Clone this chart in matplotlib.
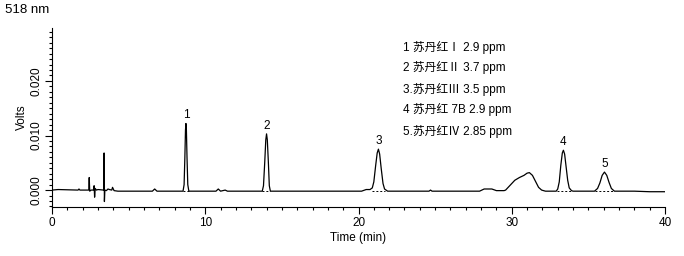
import matplotlib
matplotlib.use('Agg')
import matplotlib.pyplot as plt
from matplotlib.ticker import MultipleLocator

plt.rcParams['font.family'] = ['Liberation Sans', 'Noto Sans CJK SC', 'DejaVu Sans']

# chromatogram trace (min, volts)
time_min = [0, 0.4, 1.7, 1.76, 1.82, 2.40, 2.43, 2.46, 2.55, 2.70, 2.75, 2.78, 2.82, 2.9,
            3.0, 3.38, 3.40, 3.42, 3.45, 3.55, 3.65, 3.75, 3.9, 3.95, 4.05, 4.3,
            6.55, 6.7, 6.85, 8.55, 8.62, 8.67, 8.71, 8.74, 8.77, 8.81, 8.86, 8.93,
            10.7, 10.85, 11.0, 11.3, 11.45, 11.6, 13.72, 13.8, 13.88, 13.95, 14.0, 14.05,
            14.12, 14.18, 14.25,
            20.2, 20.5, 20.75, 20.9, 21.0, 21.12, 21.22, 21.3, 21.38, 21.48, 21.6, 21.7, 21.9,
            24.6, 24.7, 24.8, 27.9, 28.2, 28.7, 29.0, 29.5,
            29.6, 29.9, 30.2, 30.5, 30.8, 31.0, 31.15, 31.35, 31.55, 31.75, 31.95, 32.2, 32.9,
            33.0, 33.1, 33.2, 33.3, 33.37, 33.45, 33.55, 33.65, 33.75, 33.9, 34.0,
            35.4, 35.6, 35.75, 35.9, 36.05, 36.2, 36.35, 36.5, 36.7, 38.0, 39.0, 40.0]
volts = [0.0000, 0.0001, 0.0000, 0.0002, 0.0000, 0.0000, 0.0023, -0.0002, 0.0000, 0.0000,
         0.0008, -0.0013, 0.0003, 0.0000, 0.0001, 0.0000, 0.0068, -0.0021, 0.0000, -0.0001,
         0.0002, 0.0001, 0.0000, 0.0005, -0.0001, -0.0002,
         -0.0002, 0.0002, -0.0002, -0.0002, 0.0010, 0.0060, 0.0110, 0.0122, 0.0110, 0.0060,
         0.0010, -0.0002,
         -0.0002, 0.0002, -0.0002, 0.0000, -0.0002, -0.0002, -0.0002, 0.0008, 0.0050, 0.0092,
         0.0103, 0.0092, 0.0050, 0.0008, -0.0002,
         -0.0002, 0.0001, 0.0001, 0.0004, 0.0015, 0.0045, 0.0068, 0.0075, 0.0066, 0.0040,
         0.0012, 0.0002, -0.0002,
         -0.0002, 0.0000, -0.0002, -0.0002, 0.0002, 0.0002, -0.0001, -0.0001,
         0.0000, 0.0009, 0.0018, 0.0023, 0.0027, 0.0031, 0.0032, 0.0027, 0.0016, 0.0005,
         0.0000, -0.0002, -0.0002,
         0.0002, 0.0015, 0.0045, 0.0068, 0.0073, 0.0066, 0.0042, 0.0018, 0.0004, -0.0001, -0.0002,
         -0.0002, 0.0003, 0.0013, 0.0027, 0.0033, 0.0027, 0.0014, 0.0003, -0.0002,
         -0.0002, -0.0003, -0.0003]

# peak labels and integration baselines
peak_names = ['1', '2', '3', '4', '5']
peak_time = [8.74, 14.0, 21.3, 33.37, 36.05]
peak_height = [0.0122, 0.0103, 0.0075, 0.0073, 0.0033]
base_start = [8.55, 13.72, 20.85, 32.95, 35.4]
base_end = [8.93, 14.25, 21.75, 33.85, 36.7]
base_level = -0.0002

legend_lines = ['1 苏丹红Ⅰ 2.9 ppm', '2 苏丹红Ⅱ 3.7 ppm', '3.苏丹红Ⅲ 3.5 ppm',
                '4 苏丹红 7B 2.9 ppm', '5.苏丹红Ⅳ 2.85 ppm']

fig = plt.figure(figsize=(6.84, 2.56), dpi=100)
ax = fig.add_axes([52 / 684, 49 / 256, 613 / 684, 179 / 256])

ax.plot(time_min, volts, color='black', lw=0.9)
for s, e in zip(base_start, base_end):
    ax.plot([s, e], [base_level, base_level], color='black', lw=0.7, ls=(0, (2, 2)))
for name, t, h in zip(peak_names, peak_time, peak_height):
    ax.text(t, h + 0.0004, name, ha='center', va='bottom', fontsize=8.5)

for i, line in enumerate(legend_lines):
    ax.text(403 / 684, 1 - (47 + i * 21) / 256, line, transform=fig.transFigure,
            ha='left', va='center', fontsize=8.5)

ax.set_xlim(0, 40)
ax.set_ylim(-0.0031, 0.0297)
ax.xaxis.set_major_locator(MultipleLocator(10))
ax.xaxis.set_minor_locator(MultipleLocator(1))
ax.yaxis.set_major_locator(MultipleLocator(0.01))
ax.yaxis.set_minor_locator(MultipleLocator(0.001))
ax.set_yticks([0, 0.01, 0.02])
ax.set_yticklabels(['0.000', '0.010', '0.020'], rotation=90, va='center')
ax.tick_params(which='major', length=5, width=0.8, labelsize=8.5, pad=2)
ax.tick_params(which='minor', length=2.5, width=0.8)

for side in ['top', 'right']:
    ax.spines[side].set_visible(False)
ax.spines['left'].set_linewidth(0.8)
ax.spines['bottom'].set_linewidth(0.8)

ax.set_xlabel('Time (min)', fontsize=8.5, labelpad=2)
ax.set_ylabel('Volts', fontsize=8.5, labelpad=2)
fig.text(5 / 684, 1 - 10 / 256, '518 nm', ha='left', va='center', fontsize=9.5)

fig.savefig('out.png', dpi=100)
